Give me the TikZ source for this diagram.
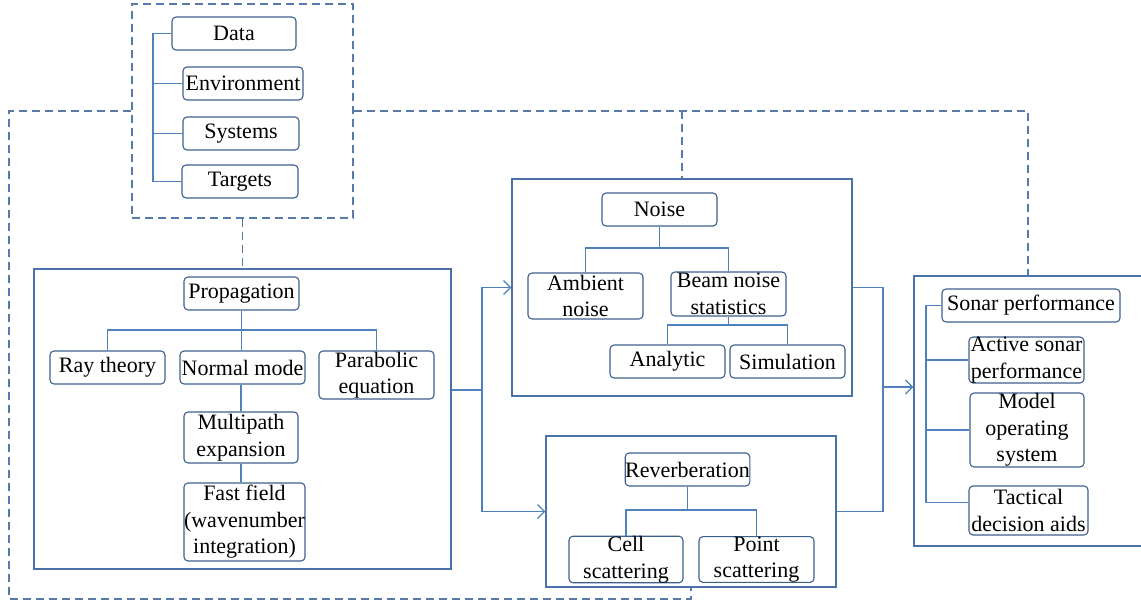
\documentclass[tikz,border=0pt]{standalone}
\usepackage{fontspec}
\setmainfont{Liberation Serif}
\usetikzlibrary{arrows.meta}
\definecolor{ndcol}{RGB}{60,96,142}
\definecolor{boxcol}{RGB}{74,114,168}
\definecolor{lncol}{RGB}{79,129,189}
\definecolor{dshcol}{RGB}{88,122,168}
\tikzset{
  nd/.style={draw=ndcol, line width=1.1pt, rounded corners=4pt, inner sep=0pt, align=center,
    font=\fontsize{22}{26.5}\selectfont, text=black},
  outerbox/.style={draw=boxcol, line width=1.3pt, inner sep=0pt},
  dbox/.style={draw=dshcol, line width=1.3pt, dash pattern=on 8pt off 5pt, inner sep=0pt},
  ln/.style={draw=lncol, line width=1.2pt},
  dsh/.style={draw=dshcol, line width=1.3pt, dash pattern=on 8pt off 5pt},
  barb/.style={-{Straight Barb[length=7pt,width=14pt]}},
}
\begin{document}
\begin{tikzpicture}[x=1pt,y=-1pt]
\clip (0,0) rectangle (1141,604);
\fill[white] (0,0) rectangle (1141,604);

% top dashed group
\node[dbox, minimum width=221, minimum height=214] (top) at (242.5,111) {};
\node[nd, minimum width=124, minimum height=33] (data) at (234,33.5) {Data};
\node[nd, minimum width=120, minimum height=33] (env) at (243,83.5) {Environment};
\node[nd, minimum width=116, minimum height=33] (sys) at (241,133.5) {Systems};
\node[nd, minimum width=116, minimum height=33] (tgt) at (240,181.5) {Targets};
\coordinate (tbx) at (153,0);
\draw[ln] (data.west) -- (data.west -| tbx) -- (tgt.west -| tbx) -- (tgt.west);
\draw[ln] (env.west -| tbx) -- (env.west);
\draw[ln] (sys.west -| tbx) -- (sys.west);

% propagation
\node[outerbox, minimum width=417, minimum height=300] (propbox) at (242.5,419) {};
\node[nd, minimum width=115, minimum height=33] (prop) at (241.5,293.5) {Propagation};
\node[nd, minimum width=115, minimum height=33] (ray) at (107.5,367.5) {Ray theory};
\node[nd, minimum width=125, minimum height=33] (normal) at (242.5,367.5) {Normal mode};
\node[nd, minimum width=115, minimum height=48] (para) at (376.5,375) {Parabolic\\equation};
\node[nd, minimum width=114, minimum height=51] (multi) at (241,437.5) {Multipath\\expansion};
\node[nd, minimum width=121, minimum height=78] (fast) at (244.5,522) {Fast field\\(wavenumber\\integration)};
\coordinate (pj) at (241,330);
\draw[ln] (prop.south) -- (prop.south |- normal.north);
\draw[ln] (ray.north) |- (pj) -| (para.north);
\draw[ln] (multi.north |- normal.south) -- (multi.north);
\draw[ln] (multi.south) -- (multi.south |- fast.north);

% noise
\node[outerbox, minimum width=340, minimum height=217] (noisebox) at (682,287.5) {};
\node[nd, minimum width=115, minimum height=33] (noise) at (659.5,209.5) {Noise};
\node[nd, minimum width=115, minimum height=46] (amb) at (585.5,296) {Ambient\\noise};
\node[nd, minimum width=115, minimum height=44] (beam) at (728.5,294) {Beam noise\\statistics};
\node[nd, minimum width=115, minimum height=33] (anal) at (667.5,361.5) {Analytic};
\node[nd, minimum width=115, minimum height=33] (sim) at (787.5,361.5) {Simulation};
\coordinate (nj) at (659.5,248);
\draw[ln] (noise.south) -- (noise.south |- nj);
\draw[ln] (amb.north) |- (nj) -| (beam.north);
\coordinate (bj) at (728.5,325);
\draw[ln] (beam.south) -- (beam.south |- bj);
\draw[ln] (anal.north) |- (bj) -| (sim.north);

% reverberation
\node[outerbox, minimum width=290, minimum height=151] (revbox) at (691,511.5) {};
\node[nd, minimum width=123, minimum height=33] (rev) at (687.5,469.5) {Reverberation};
\node[nd, minimum width=114, minimum height=45] (cell) at (626,559.5) {Cell\\scattering};
\node[nd, minimum width=115, minimum height=45] (point) at (756.5,559.5) {Point\\scattering};
\coordinate (rj) at (687.5,510);
\draw[ln] (rev.south) -- (rev.south |- rj);
\draw[ln] (cell.north) |- (rj) -| (point.north);

% sonar
\node[outerbox, minimum width=240, minimum height=270] (sonarbox) at (1034,411) {};
\node[nd, minimum width=178, minimum height=33] (sperf) at (1031,305.5) {Sonar performance};
\node[nd, minimum width=115, minimum height=46] (act) at (1026.5,360) {Active sonar\\performance};
\node[nd, minimum width=114, minimum height=74] (model) at (1027,430) {Model\\operating\\system};
\node[nd, minimum width=119, minimum height=49] (tac) at (1028.5,510.5) {Tactical\\decision aids};
\coordinate (sx) at (926,0);
\coordinate (tacin) at ([yshift=8pt]tac.west);
\draw[ln] (sperf.west) -- (sperf.west -| sx) -- (sx |- tacin) -- (tacin);
\draw[ln] (act.west -| sx) -- (act.west);
\draw[ln] (model.west -| sx) -- (model.west);

% solid connectors with arrows
\coordinate (jx) at (482,390);
\draw[ln] (propbox.east |- jx) -- (jx);
\draw[ln, {Straight Barb[length=7pt,width=14pt]}-{Straight Barb[length=7pt,width=14pt]}] (noisebox.west) -| (jx) |- (revbox.west);
\coordinate (kx) at (883,387);
\draw[ln] (noisebox.east) -| (kx) |- (revbox.east);
\draw[ln, barb] (kx) -- (kx -| sonarbox.west);

% dashed connectors
\coordinate (dBL) at (9,599);
\draw[dsh] (top.west) -| (dBL) -| (revbox.south);
\coordinate (dR) at (1028,111);
\draw[dsh] (top.east) -- (dR) -- (dR |- sonarbox.north);
\draw[dsh] (noisebox.north |- top.east) -- (noisebox.north);
\draw[dsh] (top.south) -- (propbox.north);
\end{tikzpicture}
\end{document}
